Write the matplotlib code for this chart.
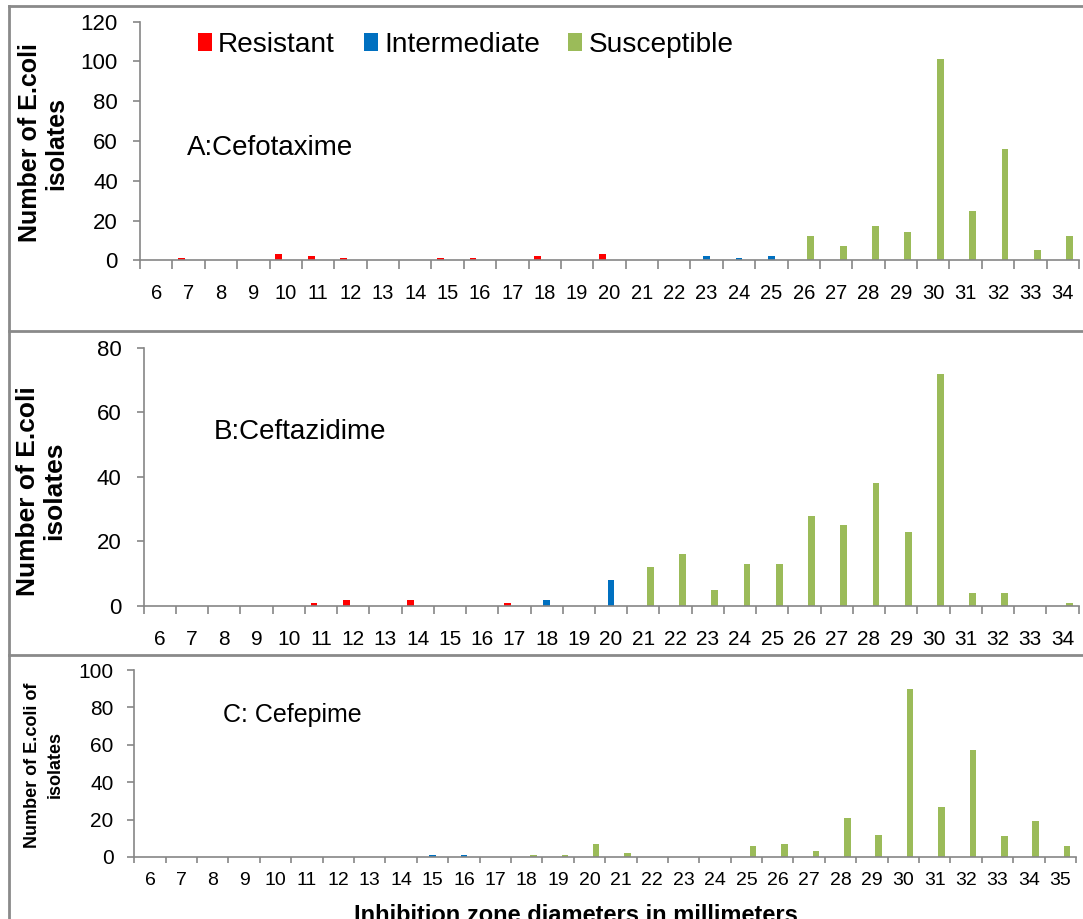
import numpy as np
import matplotlib
matplotlib.use("Agg")
import matplotlib.pyplot as plt
from matplotlib.lines import Line2D

plt.rcParams['font.family'] = ['Liberation Sans', 'DejaVu Sans']

# ---- data: number of E. coli isolates per inhibition zone diameter (mm) ----
cefotaxime_mm = list(range(6, 35))
cefotaxime_resistant = [0, 1, 0, 0, 3, 2, 1, 0, 0, 1, 1, 0, 2, 0, 3, 0, 0, 0, 0, 0,
                        0, 0, 0, 0, 0, 0, 0, 0, 0]
cefotaxime_intermediate = [0, 0, 0, 0, 0, 0, 0, 0, 0, 0, 0, 0, 0, 0, 0, 0, 0, 2, 1, 2,
                           0, 0, 0, 0, 0, 0, 0, 0, 0]
cefotaxime_susceptible = [0, 0, 0, 0, 0, 0, 0, 0, 0, 0, 0, 0, 0, 0, 0, 0, 0, 0, 0, 0,
                          12, 7, 17, 14, 101, 25, 56, 5, 12]

ceftazidime_mm = list(range(6, 35))
ceftazidime_resistant = [0, 0, 0, 0, 0, 1, 2, 0, 2, 0, 0, 1, 0, 0, 0, 0, 0, 0, 0, 0,
                         0, 0, 0, 0, 0, 0, 0, 0, 0]
ceftazidime_intermediate = [0, 0, 0, 0, 0, 0, 0, 0, 0, 0, 0, 0, 2, 0, 8, 0, 0, 0, 0, 0,
                            0, 0, 0, 0, 0, 0, 0, 0, 0]
ceftazidime_susceptible = [0, 0, 0, 0, 0, 0, 0, 0, 0, 0, 0, 0, 0, 0, 0, 12, 16, 5, 13, 13,
                           28, 25, 38, 23, 72, 4, 4, 0, 1]

cefepime_mm = list(range(6, 36))
cefepime_resistant = [0] * 30
cefepime_intermediate = [0, 0, 0, 0, 0, 0, 0, 0, 0, 1, 1, 0, 0, 0, 0, 0, 0, 0, 0, 0,
                         0, 0, 0, 0, 0, 0, 0, 0, 0, 0]
cefepime_susceptible = [0, 0, 0, 0, 0, 0, 0, 0, 0, 0, 0, 0, 1, 1, 7, 2, 0, 0, 0, 6,
                        7, 3, 21, 12, 90, 27, 57, 11, 19, 6]

series_names = ["Resistant", "Intermediate", "Susceptible"]
series_colors = ["#FF0000", "#0070C0", "#9BBB59"]

W, H = 1083, 919
fig = plt.figure(figsize=(W / 100, H / 100), dpi=100)
GRAY = "#868686"


def fx(px):
    return px / W


def fy(py):
    return 1 - py / H


def make_axes(left, right, top, bottom):
    return fig.add_axes([fx(left), fy(bottom), (right - left) / W, (bottom - top) / H])


def draw_panel(ax, mm, res, inter, sus, ymax, ystep, xfs, yfs, xpad, ypad, xtick_len):
    n = len(mm)
    x = np.arange(n)
    width = 0.21
    off = 0.215
    bars = []
    for vals, dx, col in zip([res, inter, sus], [-off, 0, off], series_colors):
        bars.append(ax.bar(x + dx, vals, width=width, color=col, linewidth=0))
    ax.set_xlim(-0.5, n - 0.5)
    ax.set_ylim(0, ymax)
    ax.set_yticks(np.arange(0, ymax + 1, ystep))
    ax.set_xticks(np.arange(-0.5, n), minor=False)
    ax.set_xticklabels([])
    ax.set_xticks(x, minor=True)
    ax.set_xticklabels([str(v) for v in mm], minor=True, fontsize=xfs)
    ax.tick_params(axis='x', which='major', length=xtick_len, width=1.2, color=GRAY,
                   direction='out')
    ax.tick_params(axis='x', which='minor', length=0, pad=xpad)
    ax.tick_params(axis='y', length=5, width=1.2, color=GRAY, direction='out',
                   labelsize=yfs, pad=ypad)
    for s in ['top', 'right']:
        ax.spines[s].set_visible(False)
    for s in ['left', 'bottom']:
        ax.spines[s].set_color(GRAY)
        ax.spines[s].set_linewidth(1.2)
    ax.patch.set_alpha(0)
    return bars


# Panel A: Cefotaxime
axA = make_axes(140, 1079, 21.7, 260.3)
barsA = draw_panel(axA, cefotaxime_mm, cefotaxime_resistant, cefotaxime_intermediate,
                   cefotaxime_susceptible, 120, 20, 14.5, 16, 17, 11, 6.5)
fig.text(fx(187), fy(148), "A:Cefotaxime", fontsize=20, ha='left', va='center')
fig.text(fx(43), fy(143), "Number of E.coli\nisolates", fontsize=18, fontweight='bold',
         rotation=90, ha='center', va='center', multialignment='center', linespacing=1.1)
axA.legend(barsA, series_names, ncol=3, loc='center left',
           bbox_to_anchor=(fx(198), fy(44.7)), bbox_transform=fig.transFigure,
           frameon=False, fontsize=20.2, handlelength=0.5, handleheight=0.58,
           handletextpad=0.22, columnspacing=1.02, borderpad=0, borderaxespad=0)

# Panel B: Ceftazidime
axB = make_axes(143.7, 1078.5, 347.7, 606)
draw_panel(axB, ceftazidime_mm, ceftazidime_resistant, ceftazidime_intermediate,
           ceftazidime_susceptible, 80, 20, 15, 16, 17, 11, 6)
fig.text(fx(214), fy(431.7), "B:Ceftazidime", fontsize=20, ha='left', va='center')
fig.text(fx(41), fy(491), "Number of E.coli\nisolates", fontsize=19, fontweight='bold',
         rotation=90, ha='center', va='center', multialignment='center', linespacing=1.1)

# Panel C: Cefepime
axC = make_axes(134.3, 1076, 670, 857)
draw_panel(axC, cefepime_mm, cefepime_resistant, cefepime_intermediate,
           cefepime_susceptible, 100, 20, 14, 15, 11, 10, 4)
fig.text(fx(223), fy(715), "C: Cefepime", fontsize=18, ha='left', va='center')
fig.text(fx(44), fy(765), "Number of E.coli of\nisolates", fontsize=13, fontweight='bold',
         rotation=90, ha='center', va='center', multialignment='center', linespacing=1.4)
fig.text(fx(576), fy(904), "Inhibition zone diameters in millimeters", fontsize=17,
         fontweight='bold', ha='center', va='top')

# chart-area borders around each panel
for yline in [5.7, 330.7, 655]:
    fig.add_artist(Line2D([fx(9), 1.0], [fy(yline), fy(yline)], color="#8A8A8A",
                          linewidth=2.0, transform=fig.transFigure))
fig.add_artist(Line2D([fx(9), fx(9)], [fy(5.7), 0.0], color="#8A8A8A", linewidth=2.0,
                      transform=fig.transFigure))

fig.savefig("out.png", dpi=100, facecolor="white")
